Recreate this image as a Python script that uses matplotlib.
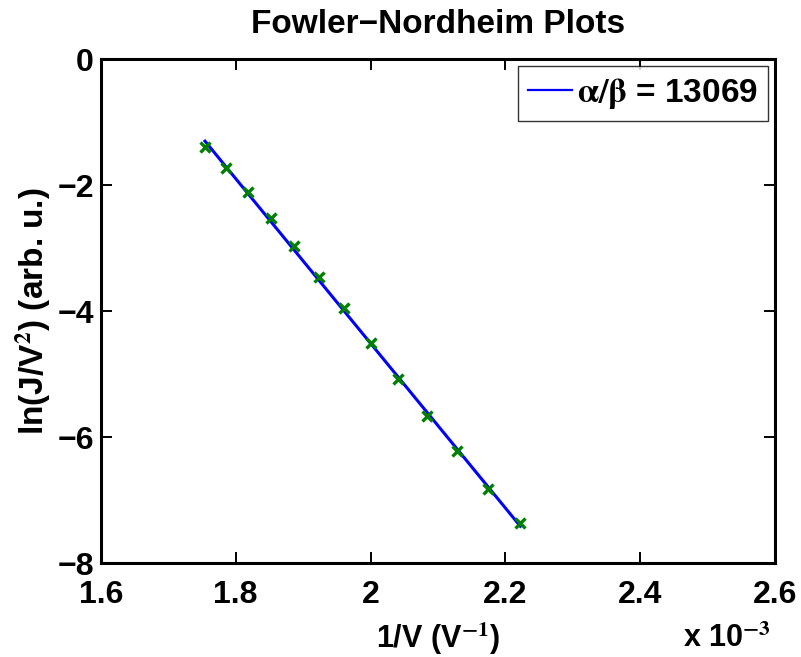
import numpy as np
import matplotlib
matplotlib.use("Agg")
import matplotlib.pyplot as plt
from matplotlib.ticker import FuncFormatter

# Applied voltages (V) and measured ln(J/V^2)
voltage = [570, 560, 550, 540, 530, 520, 510, 500, 490, 480, 470, 460, 450]
ln_j_v2 = [-1.40, -1.735, -2.106, -2.522, -2.968, -3.465, -3.957,
           -4.503, -5.079, -5.662, -6.217, -6.825, -7.360]
slope_mag = 13069  # alpha/beta from the linear fit

plt.rcParams['font.family'] = ['Liberation Sans', 'DejaVu Sans']
plt.rcParams['font.weight'] = 'bold'
plt.rcParams['mathtext.fontset'] = 'stix'

inv_v = 1.0 / np.array(voltage, dtype=float)
y = np.array(ln_j_v2)
intercept = y.mean() + slope_mag * inv_v.mean()
fit = intercept - slope_mag * inv_v

fig = plt.figure(figsize=(8.01, 6.57), dpi=100)
ax = fig.add_axes([0.126, 0.143, 0.8415, 0.767])

ax.plot(inv_v, fit, color='#0000ff', lw=2.2, label=r'$\mathrm{\alpha/\beta}$ = 13069', zorder=2)
ax.plot(inv_v, y, linestyle='none', marker='x', color='#008000', ms=7, mew=2.4, zorder=3)

ax.set_xlim(1.6e-3, 2.6e-3)
ax.set_ylim(-8, 0)
ax.set_xticks(np.arange(1.6e-3, 2.61e-3, 0.2e-3))
ax.set_yticks([-8, -6, -4, -2, 0])
ax.xaxis.set_major_formatter(FuncFormatter(lambda v, p: f'{v*1e3:g}'))
ax.yaxis.set_major_formatter(FuncFormatter(lambda v, p: f'{v:g}'.replace('-', '\u2212')))

ax.tick_params(direction='in', length=8, width=1.4, top=True, right=True,
               labelsize=23)
ax.tick_params(axis='x', pad=12)
ax.tick_params(axis='y', pad=5)
for lbl in ax.get_xticklabels() + ax.get_yticklabels():
    lbl.set_fontweight('bold')
for sp in ax.spines.values():
    sp.set_linewidth(2.2)

ax.set_title('Fowler\u2212Nordheim Plots', fontsize=24, fontweight='bold', pad=19)
ax.set_xlabel(r'1/V (V$^{\mathbf{-1}}$)', fontsize=22, fontweight='bold')
ax.set_ylabel(r'ln(J/V$^{\mathbf{2}}$) (arb. u.)', fontsize=24, fontweight='bold')
ax.xaxis.set_label_coords(0.5, -0.113)
ax.yaxis.set_label_coords(-0.071, 0.5)
fig.text(683 / 801, 10 / 657, r'x 10$^{\mathbf{-3}}$', fontsize=22,
         fontweight='bold', va='baseline')

leg = ax.legend(loc='upper right', fontsize=24, frameon=True, fancybox=False,
                edgecolor='black', handlelength=1.33, handletextpad=0.15,
                borderpad=0.3, borderaxespad=0.2)
leg.get_frame().set_linewidth(1.0)
leg.get_lines()[0].set_linewidth(1.6)
for t in leg.get_texts():
    t.set_fontweight('bold')

fig.savefig('out.png', dpi=100, facecolor='white')
